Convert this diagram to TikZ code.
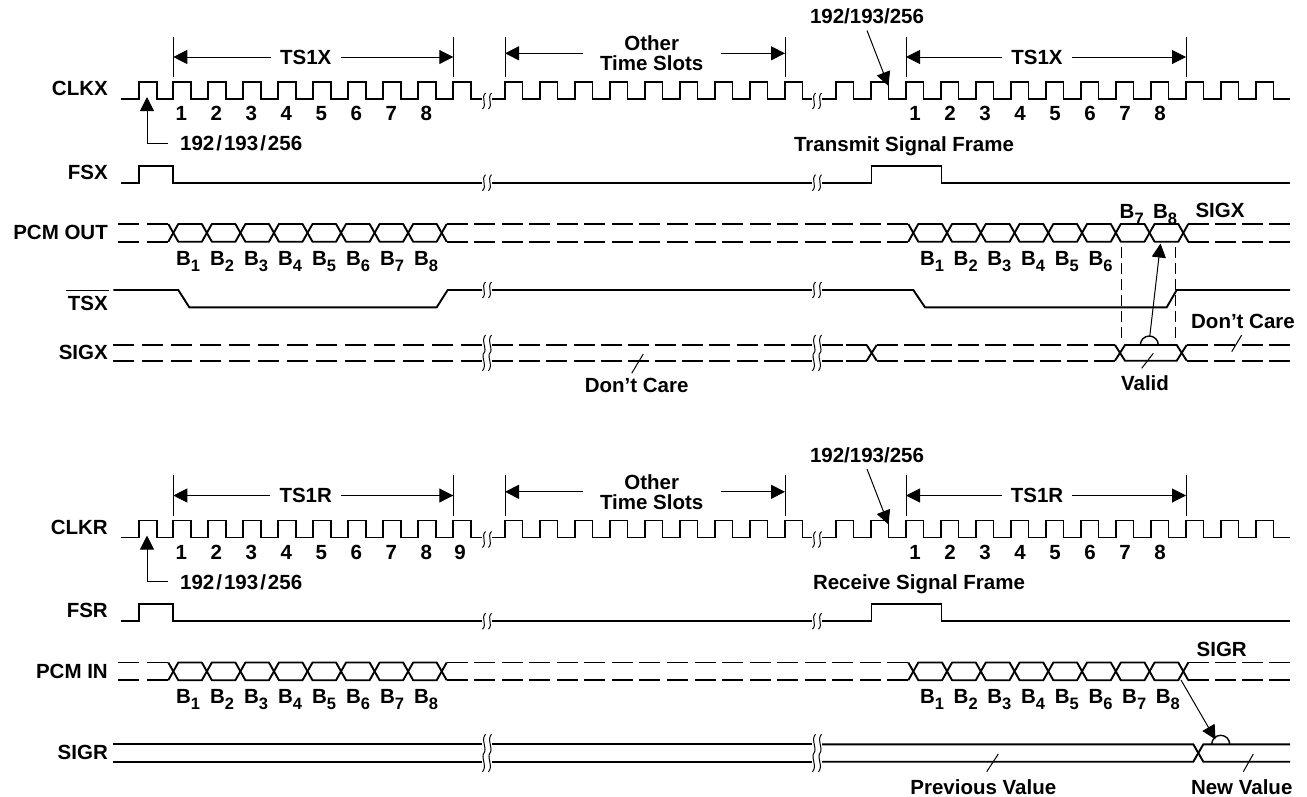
\documentclass[tikz,border=0pt]{standalone}
\usepackage{fontspec}
\setmainfont{Liberation Sans}
\usetikzlibrary{arrows.meta}
\newcommand\fs{\fontsize{20.5}{20}\selectfont\bfseries}
\newcommand\bsub[1]{B\raisebox{-6pt}{\fontsize{16.5}{15}\selectfont #1}}
\newcommand\myslash{\hspace{2pt}/\hspace{2pt}}
\tikzset{
 sig/.style={line width=1.9pt, line join=miter, line cap=butt},
 thinl/.style={line width=1pt},
 tip/.style={-{Triangle[length=14pt,width=14pt]}},
 lab/.style={font=\fs, inner sep=0pt},
 rowlab/.style={lab, anchor=east},
 brkmark/.style={line width=1pt},
}
% clock: start, end, low y, high y, rises
\newcommand\clk[5]{\draw[sig] (#1,#3) foreach \rr in {#5} { -- (\rr,#3) -- (\rr,#4) -- (\rr+17.5,#4) -- (\rr+17.5,#3) } -- (#2,#3);}
% single break marks (line ends at x, resumes at x+10)
\newcommand\brk[2]{\foreach \qq in {2,8}{\draw[brkmark] (#1+\qq+1.5,#2-8) .. controls (#1+\qq-3.5,#2-3) and (#1+\qq+3.5,#2+3) .. (#1+\qq-1.5,#2+8);}}
% double break marks
\newcommand\dbrk[3]{\foreach \qq in {2,8}{\draw[brkmark] (#1+\qq+1.5,#2-10) .. controls (#1+\qq-3.5,#2-5) and (#1+\qq+3.5,#2+5) .. (#1+\qq,{(#2+#3)/2}) .. controls (#1+\qq-3.5,#3-5) and (#1+\qq+3.5,#3+5) .. (#1+\qq-1.5,#3+10);}}
% dashed segment with dashes at both ends
\newcommand\dseg[3]{%
 \pgfmathsetmacro\dlen{#2-#1}%
 \pgfmathtruncatemacro\dn{max(1,round((\dlen-21)/28))}%
 \pgfmathsetmacro\dg{(\dlen-21*(\dn+1))/\dn}%
 \draw[sig, dash pattern=on 21pt off \dg pt] (#1,#3) -- (#2,#3);}
% bus of 8 cells: c0, step, top, bottom
\newcommand\bus[4]{%
 \pgfmathsetmacro\bmid{(#3+#4)/2}%
 \draw[sig,line join=round] (#1-5,#3) -- (#1,\bmid) -- (#1-5,#4);
 \foreach \ii in {0,...,7}{%
   \pgfmathsetmacro\xa{#1+#2*\ii}%
   \pgfmathsetmacro\xb{#1+#2*(\ii+1)}%
   \draw[sig,line join=round] (\xa,\bmid) -- (\xa+5,#3) -- (\xb-5,#3) -- (\xb,\bmid) -- (\xb-5,#4) -- (\xa+5,#4) -- cycle;}
 \pgfmathsetmacro\xe{#1+#2*8}%
 \draw[sig,line join=round] (\xe+5,#3) -- (\xe,\bmid) -- (\xe+5,#4);}
\begin{document}
\begin{tikzpicture}[x=1pt,y=-1pt]
\fill[white] (0,0) rectangle (1307,796);
\useasboundingbox (0,0) rectangle (1307,796);

\foreach \off/\tag/\clkn/\fsn/\pcmn/\tsn/\frn/\frx/\fry in {0/x/CLKX/FSX/PCM OUT/TS1X/Transmit/904/146.7, 438.5/r/CLKR/FSR/PCM IN/TS1R/Receive/919/146}{
\begin{scope}[yshift=-\off pt]
 \node[rowlab] (clk\tag) at (108,88.7) {\clkn};
 \node[rowlab] (fs\tag) at (108,172.3) {\fsn};
 \node[rowlab] (pcm\tag) at (108,232.8) {\pcmn};
 % clock
 \clk{121}{482}{99}{82}{139.3,173.3,208.3,243.3,278.3,313.3,348.3,383.3,418.3,453.3}
 \brk{482}{101}
 \clk{492}{812}{99}{82}{505,540,575,610,645,680,715,750,785}
 \brk{812}{101}
 \clk{822}{1290}{99}{82}{836,871,906,941,976,1011,1046,1081,1116,1151,1186,1221,1256}
 % ticks and dimension arrows
 \foreach \xx in {173.3,453.3,505,785,906,1186}{\draw[thinl] (\xx,36.7) -- (\xx,77.3);}
 \coordinate (ta\tag) at (173.3,57); \coordinate (tb\tag) at (453.3,57);
 \coordinate (tc\tag) at (906,57); \coordinate (td\tag) at (1186,57);
 \coordinate (oa\tag) at (505,53.3); \coordinate (ob\tag) at (785,53.3);
 \node[lab, inner xsep=9pt] (ts\tag) at (305.7,57) {\tsn};
 \node[lab, inner xsep=9pt] (tsr\tag) at (1037,57) {\tsn};
 \node[lab, align=center, inner xsep=17pt] (ots\tag) at (651.7,53.3) {Other\\Time Slots};
 \draw[thinl,tip] (ts\tag.west) -- (ta\tag);
 \draw[thinl,tip] (ts\tag.east) -- (tb\tag);
 \draw[thinl,tip] (tsr\tag.west) -- (tc\tag);
 \draw[thinl,tip] (tsr\tag.east) -- (td\tag);
 \draw[thinl,tip] (ots\tag.west) -- (oa\tag);
 \draw[thinl,tip] (ots\tag.east) -- (ob\tag);
 % bit numbers
 \foreach \nn in {1,...,8}{
   \node[lab, anchor=base] (nl\tag\nn) at ({181.3+35*(\nn-1)},120.5) {\nn};
   \node[lab, anchor=base] (nr\tag\nn) at ({915+35*(\nn-1)},120.5) {\nn};}
 % 192/193/256 labels
 \node[lab, anchor=west] (la\tag) at (180,143.3) {192\myslash193\myslash256};
 \coordinate (lat\tag) at (147,97);
 \draw[thinl,tip] ([xshift=-12pt]la\tag.west) -| (lat\tag);
 \node[lab] (ra\tag) at (867,16.7) {192/193/256};
 \coordinate (rat\tag) at (888.5,86);
 \draw[thinl,tip] ([yshift=-6pt]ra\tag.south) -- (rat\tag);
 \node[lab] (fr\tag) at (\frx,\fry) {\frn\ Signal Frame};
 % frame sync
 \draw[sig] (121,182.7) -- (139.3,182.7) -- (139.3,165.7) -- (173.3,165.7) -- (173.3,182.7) -- (482,182.7);
 \brk{482}{182.7}
 \draw[sig] (492,182.7) -- (812,182.7);
 \brk{812}{182.7}
 \draw[sig] (822,182.7) -- (871.5,182.7) -- (871.5,165.7) -- (941.5,165.7) -- (941.5,182.7) -- (1290,182.7);
 % PCM bus
 \dseg{118.3}{168.3}{224} \dseg{118.3}{168.3}{241.7}
 \bus{173.3}{33.55}{224}{241.7}
 \dseg{446.7}{908.3}{224} \dseg{446.7}{908.3}{241.7}
 \bus{913.3}{33.75}{224}{241.7}
 \dseg{1188.3}{1290}{224} \dseg{1188.3}{1290}{241.7}
 \foreach \nn in {1,...,8}{\node[lab, anchor=base] (bl\tag\nn) at ({188+34*(\nn-1)},265) {\bsub{\nn}};}
\end{scope}}

% ---------- transmit-only parts ----------
\foreach \nn in {1,...,6}{\node[lab, anchor=base] (brx\nn) at ({932+33.7*(\nn-1)},265) {\bsub{\nn}};}
\node[lab, anchor=base] (brx7) at (1131.7,218) {\bsub{7}};
\node[lab, anchor=base] (brx8) at (1165,218) {\bsub{8}};
\node[lab, anchor=base] (sigxtop) at (1220,217.5) {SIGX};

% TSX
\node[rowlab] (tsx) at (108,303.5) {TSX};
\draw[line width=1.7pt] ([xshift=-1.5pt,yshift=5.5pt]tsx.north west) -- ([xshift=1pt,yshift=5.5pt]tsx.north east);
\draw[sig] (113.3,290) -- (178.3,290) -- (189.3,307.3) -- (436.7,307.3) -- (447.7,290) -- (482,290);
\brk{482}{290}
\draw[sig] (492,290) -- (812,290);
\brk{812}{290}
\draw[sig] (822,290) -- (913.3,290) -- (925,307.3) -- (1166.7,307.3) -- (1176.7,290) -- (1290,290);

% SIGX
\node[rowlab] (sigx) at (108,352.5) {SIGX};
\dseg{113.3}{482}{345} \dseg{113.3}{482}{360.7}
\dbrk{482}{345}{360.7}
\dseg{492}{812}{345} \dseg{492}{812}{360.7}
\dbrk{812}{345}{360.7}
\dseg{822}{866.7}{345} \dseg{822}{866.7}{360.7}
\draw[sig] (866.7,345) -- (876.7,360.7) (866.7,360.7) -- (876.7,345);
\dseg{876.7}{1115}{345} \dseg{876.7}{1115}{360.7}
\draw[sig] (1115,345) -- (1125,360.7) -- (1176.7,360.7) -- (1186.7,345);
\draw[sig] (1115,360.7) -- (1125,345) -- (1176.7,345) -- (1186.7,360.7);
\dseg{1186.7}{1290}{345} \dseg{1186.7}{1290}{360.7}
\draw[line width=1.4pt] (1140.3,345) arc[start angle=180,end angle=360,radius=9];
\draw[thinl, dash pattern=on 11pt off 5pt] (1121.7,246.7) -- (1121.7,338.3);
\draw[thinl, dash pattern=on 11pt off 5pt] (1175,246.7) -- (1175,338.3);
\coordinate (vb) at (1149.8,336); \coordinate (vt) at (1160.5,243.5);
\draw[thinl,tip] (vb) -- (vt);
\node[lab] (valid) at (1145,383.3) {Valid};
\coordinate (va) at (1141.7,368.3); \coordinate (vc) at (1153.3,353.3);
\draw[thinl] (va) -- (vc);
\node[lab] (dc1) at (636.7,385) {Don’t Care};
\coordinate (d1a) at (631.7,373.3); \coordinate (d1b) at (643.3,354);
\draw[thinl] (d1a) -- (d1b);
\node[lab] (dc2) at (1243,321.7) {Don’t Care};
\coordinate (d2a) at (1241.7,335); \coordinate (d2b) at (1231.7,351.7);
\draw[thinl] (d2a) -- (d2b);

% ---------- receive-only parts ----------
\node[lab, anchor=base] (nine) at (460,559) {9};
\foreach \nn in {1,...,8}{\node[lab, anchor=base] (brr\nn) at ({932+33.7*(\nn-1)},703.5) {\bsub{\nn}};}
\node[lab, anchor=base] (sigrtop) at (1221.7,656.5) {SIGR};
\node[rowlab] (sigr) at (108,752.5) {SIGR};
\draw[sig] (113.3,744.3) -- (482,744.3) (113.3,761.7) -- (482,761.7);
\dbrk{482}{744.3}{761.7}
\draw[sig] (492,744.3) -- (812,744.3) (492,761.7) -- (812,761.7);
\dbrk{812}{744.3}{761.7}
\draw[sig] (822,744.3) -- (1193.3,744.3) -- (1203.3,761.7) -- (1290,761.7);
\draw[sig] (822,761.7) -- (1193.3,761.7) -- (1203.3,744.3) -- (1290,744.3);
\draw[line width=1.4pt] (1211.7,744.3) arc[start angle=180,end angle=360,radius=9];
\coordinate (sa) at (1181,680); \coordinate (sb) at (1215.5,739.5);
\draw[thinl,tip] (sa) -- (sb);
\node[lab] (prev) at (983.3,786.7) {Previous Value};
\coordinate (pa) at (986.7,771.7); \coordinate (pb) at (998.3,754);
\draw[thinl] (pa) -- (pb);
\node[lab] (newv) at (1241.7,786.7) {New Value};
\coordinate (na) at (1243.3,771.7); \coordinate (nb) at (1253.3,754);
\draw[thinl] (na) -- (nb);
\end{tikzpicture}
\end{document}
